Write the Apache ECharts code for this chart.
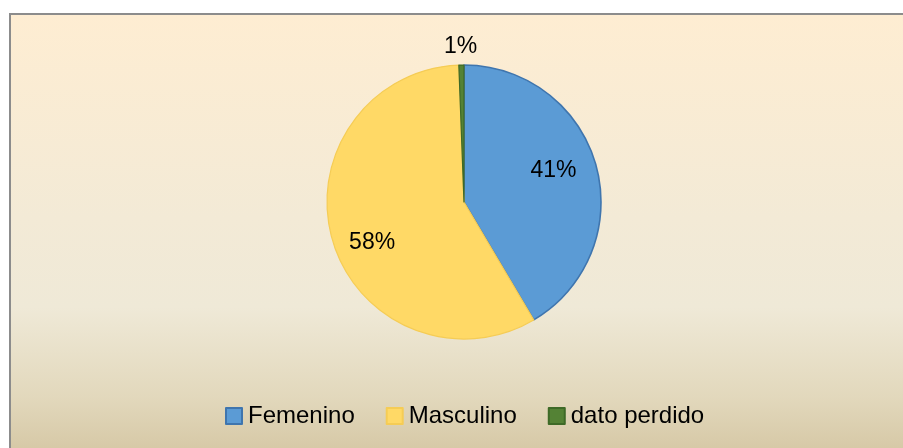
<!DOCTYPE html>
<html><head><meta charset="utf-8">
<script src="https://cdn.jsdelivr.net/npm/echarts@6/dist/echarts.min.js"></script>
<style>
html,body{margin:0;padding:0;background:#fff;width:903px;height:448px;overflow:hidden;}
#bg{position:absolute;left:9px;top:13px;width:910px;height:450px;border-left:2px solid #8c8c8c;border-top:2px solid #8c8c8c;
background:linear-gradient(to bottom,#FEEDD2 0%,#F3EAD6 45%,#EFE9D7 65%,#E2D8BC 85%,#D3C4A0 100%);}
#c{position:absolute;left:0;top:0;width:903px;height:448px;}
</style></head><body>
<div id="bg"></div>
<div id="c"></div>
<script>
const categories = ['Femenino', 'Masculino', 'dato perdido'];
const values = [41.5, 57.9, 0.6];
const colors = ['#5B9BD5', '#FFD966', '#548235'];
const borders = ['#3F75AE', '#F5CC55', '#3E6A27'];

const chart = echarts.init(document.getElementById('c'), null, {renderer: 'canvas'});
const font = '"Liberation Sans", Arial, sans-serif';
const center = [464, 202];
const R = 137;
const labelShift = [[-6, -5], [3, 13], [0, 0]];

const mainData = categories.map((n, i) => ({
  name: n, value: values[i],
  itemStyle: {color: colors[i], borderColor: borders[i], borderWidth: i === 0 ? 1.6 : 1.2},
  label: i === 2 ? {show: true, position: 'outside'} : {show: false},
  labelLine: {show: false, length: 8, length2: 0}
}));
const overlayData = categories.map((n, i) => ({
  name: n, value: values[i],
  label: {show: i !== 2}
}));

chart.setOption({
  backgroundColor: 'transparent',
  animation: false,
  color: colors,
  legend: {
    data: categories,
    bottom: 15,
    left: 220,
    itemWidth: 16, itemHeight: 16, itemGap: 31,
    icon: 'rect',
    textStyle: {fontFamily: font, fontSize: 24, color: '#000', padding: [0, 0, 0, 1]}
  },
  series: [
    {
      type: 'pie', center: center, radius: [0, R],
      startAngle: 90, clockwise: true,
      percentPrecision: 0,
      data: mainData,
      label: {formatter: '{d}%', fontFamily: font, fontSize: 23, color: '#000'},
      labelLayout: function (p) { return p.dataIndex === 2 ? {dx: 21, dy: -10} : {}; },
      emphasis: {disabled: true}
    },
    {
      type: 'pie', center: center, radius: [0, R * 1.40],
      startAngle: 90, clockwise: true, silent: true,
      percentPrecision: 0,
      legendHoverLink: false,
      data: overlayData,
      itemStyle: {color: 'rgba(0,0,0,0)'},
      label: {position: 'inside', formatter: '{d}%', fontFamily: font, fontSize: 23, color: '#000'},
      labelLayout: function (p) { const s = labelShift[p.dataIndex]; return {dx: s[0], dy: s[1]}; },
      labelLine: {show: false},
      emphasis: {disabled: true}
    }
  ]
});
</script>
</body></html>
